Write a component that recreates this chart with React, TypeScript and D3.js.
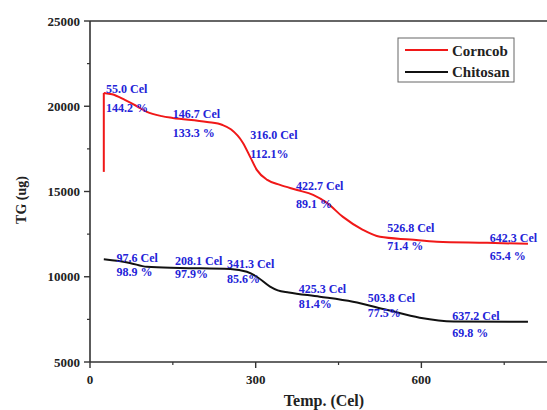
import React from "react";
import * as d3 from "d3";

const corncobTemp = [25, 25, 40, 63, 85, 103, 130, 150, 212, 240, 255, 277, 290, 302, 321, 344, 375, 404, 429, 458, 494, 525, 580, 628, 719, 793];
const corncobTG = [16150, 20780, 20700, 20370, 20000, 19670, 19420, 19316, 19080, 18900, 18650, 17850, 17030, 16270, 15680, 15390, 15090, 14800, 14330, 13510, 12750, 12340, 12180, 12050, 11990, 11930];

const chitosanTemp = [25, 72, 103, 163, 254, 284, 302, 326, 340, 360, 416, 476, 537, 597, 658, 793];
const chitosanTG = [11020, 10810, 10580, 10520, 10460, 10290, 10000, 9420, 9200, 9080, 8830, 8530, 8060, 7600, 7380, 7360];

const corncobLabels = ["55.0 Cel", "144.2 %", "146.7 Cel", "133.3 %", "316.0 Cel", "112.1%", "422.7 Cel", "89.1 %", "526.8 Cel", "71.4 %", "642.3 Cel", "65.4 %"];
const corncobLabelTemp = [29, 29, 150, 150, 290, 290, 373, 373, 538, 538, 724, 724];
const corncobLabelTG = [20780, 19666, 19314, 18200, 18083, 16969, 15093, 14038, 12631, 11576, 12045, 10990];

const chitosanLabels = ["97.6 Cel", "98.9 %", "208.1 Cel", "97.9%", "341.3 Cel", "85.6%", "425.3 Cel", "81.4%", "503.8 Cel", "77.5%", "637.2 Cel", "69.8 %"];
const chitosanLabelTemp = [48, 48, 154, 154, 248, 248, 378, 378, 503, 503, 656, 656];
const chitosanLabelTG = [10872, 10052, 10697, 9934, 10521, 9640, 9055, 8176, 8528, 7648, 7472, 6476];

const yTicks = [5000, 10000, 15000, 20000, 25000];
const yMinorTicks = [7500, 12500, 17500, 22500];
const xTicks = [0, 300, 600];
const xMinorTicks = [150, 450, 750];

const seriesNames = ["Corncob", "Chitosan"];
const seriesColors = ["#f01818", "#111111"];

export default function App() {
  const W = 547, H = 410;
  const left = 90, top = 21, bottom = 362, right = 560;
  const x = d3.scaleLinear().domain([0, 851]).range([left, right]);
  const y = d3.scaleLinear().domain([5000, 25000]).range([bottom, top]);

  const mk = (t: number[], v: number[]) => t.map((d, i) => [d, v[i]] as [number, number]);
  const red = mk(corncobTemp, corncobTG);
  const black = mk(chitosanTemp, chitosanTG);
  const smooth = d3.line<[number, number]>().x(d => x(d[0])).y(d => y(d[1])).curve(d3.curveMonotoneX);
  const straight = d3.line<[number, number]>().x(d => x(d[0])).y(d => y(d[1]));

  const font = "'Liberation Serif', 'Times New Roman', serif";
  const axisColor = "#333";
  const blue = "#2323d8";

  return (
    <div style={{ position: "absolute", left: 0, top: 0 }}>
      <svg width={W} height={H} style={{ display: "block", background: "#fff" }} fontFamily={font}>
        {/* axes */}
        <line x1={left} x2={W} y1={top} y2={top} stroke={axisColor} strokeWidth={1.6} />
        <line x1={left} x2={left} y1={top} y2={bottom} stroke={axisColor} strokeWidth={1.6} />
        <line x1={left} x2={W} y1={bottom} y2={bottom} stroke={axisColor} strokeWidth={1.6} />
        {yTicks.map(t => (
          <g key={"y" + t}>
            <line x1={left - 6} x2={left} y1={y(t)} y2={y(t)} stroke={axisColor} strokeWidth={1.4} />
            <text x={left - 10} y={y(t) + 4.5} textAnchor="end" fontSize={13} fontWeight="bold" fill="#222">{t}</text>
          </g>
        ))}
        {yMinorTicks.map(t => (
          <line key={"ym" + t} x1={left - 3} x2={left} y1={y(t)} y2={y(t)} stroke={axisColor} strokeWidth={1.2} />
        ))}
        {xTicks.map(t => (
          <g key={"x" + t}>
            <line x1={x(t)} x2={x(t)} y1={bottom} y2={bottom + 6} stroke={axisColor} strokeWidth={1.4} />
            <text x={x(t)} y={bottom + 22} textAnchor="middle" fontSize={13} fontWeight="bold" fill="#222">{t}</text>
          </g>
        ))}
        {xMinorTicks.map(t => (
          <line key={"xm" + t} x1={x(t)} x2={x(t)} y1={bottom} y2={bottom + 3} stroke={axisColor} strokeWidth={1.2} />
        ))}
        <text x={324} y={406} textAnchor="middle" fontSize={16} fontWeight="bold" fill="#222">Temp. (Cel)</text>
        <text transform={`translate(26,${200}) rotate(-90)`} textAnchor="middle" fontSize={14} fontWeight="bold" fill="#222">TG (ug)</text>

        {/* curves */}
        <path d={straight(red.slice(0, 2)) || ""} fill="none" stroke={seriesColors[0]} strokeWidth={2} />
        <path d={smooth(red.slice(1)) || ""} fill="none" stroke={seriesColors[0]} strokeWidth={2} />
        <path d={smooth(black) || ""} fill="none" stroke={seriesColors[1]} strokeWidth={2} />

        {/* annotations */}
        {corncobLabels.map((s, i) => (
          <text key={"ca" + i} x={x(corncobLabelTemp[i])} y={y(corncobLabelTG[i])} fontSize={12} fontWeight="bold" fill={blue}>{s}</text>
        ))}
        {chitosanLabels.map((s, i) => (
          <text key={"ha" + i} x={x(chitosanLabelTemp[i])} y={y(chitosanLabelTG[i])} fontSize={12} fontWeight="bold" fill={blue}>{s}</text>
        ))}

        {/* legend */}
        <rect x={398} y={38} width={116} height={44} fill="#fff" stroke="#666" strokeWidth={1} />
        {seriesNames.map((n, i) => (
          <g key={n}>
            <line x1={405} x2={448} y1={50 + i * 22} y2={50 + i * 22} stroke={seriesColors[i]} strokeWidth={2} />
            <text x={452} y={56 + i * 21} fontSize={15} fontWeight="bold" fill="#222">{n}</text>
          </g>
        ))}
      </svg>
    </div>
  );
}
